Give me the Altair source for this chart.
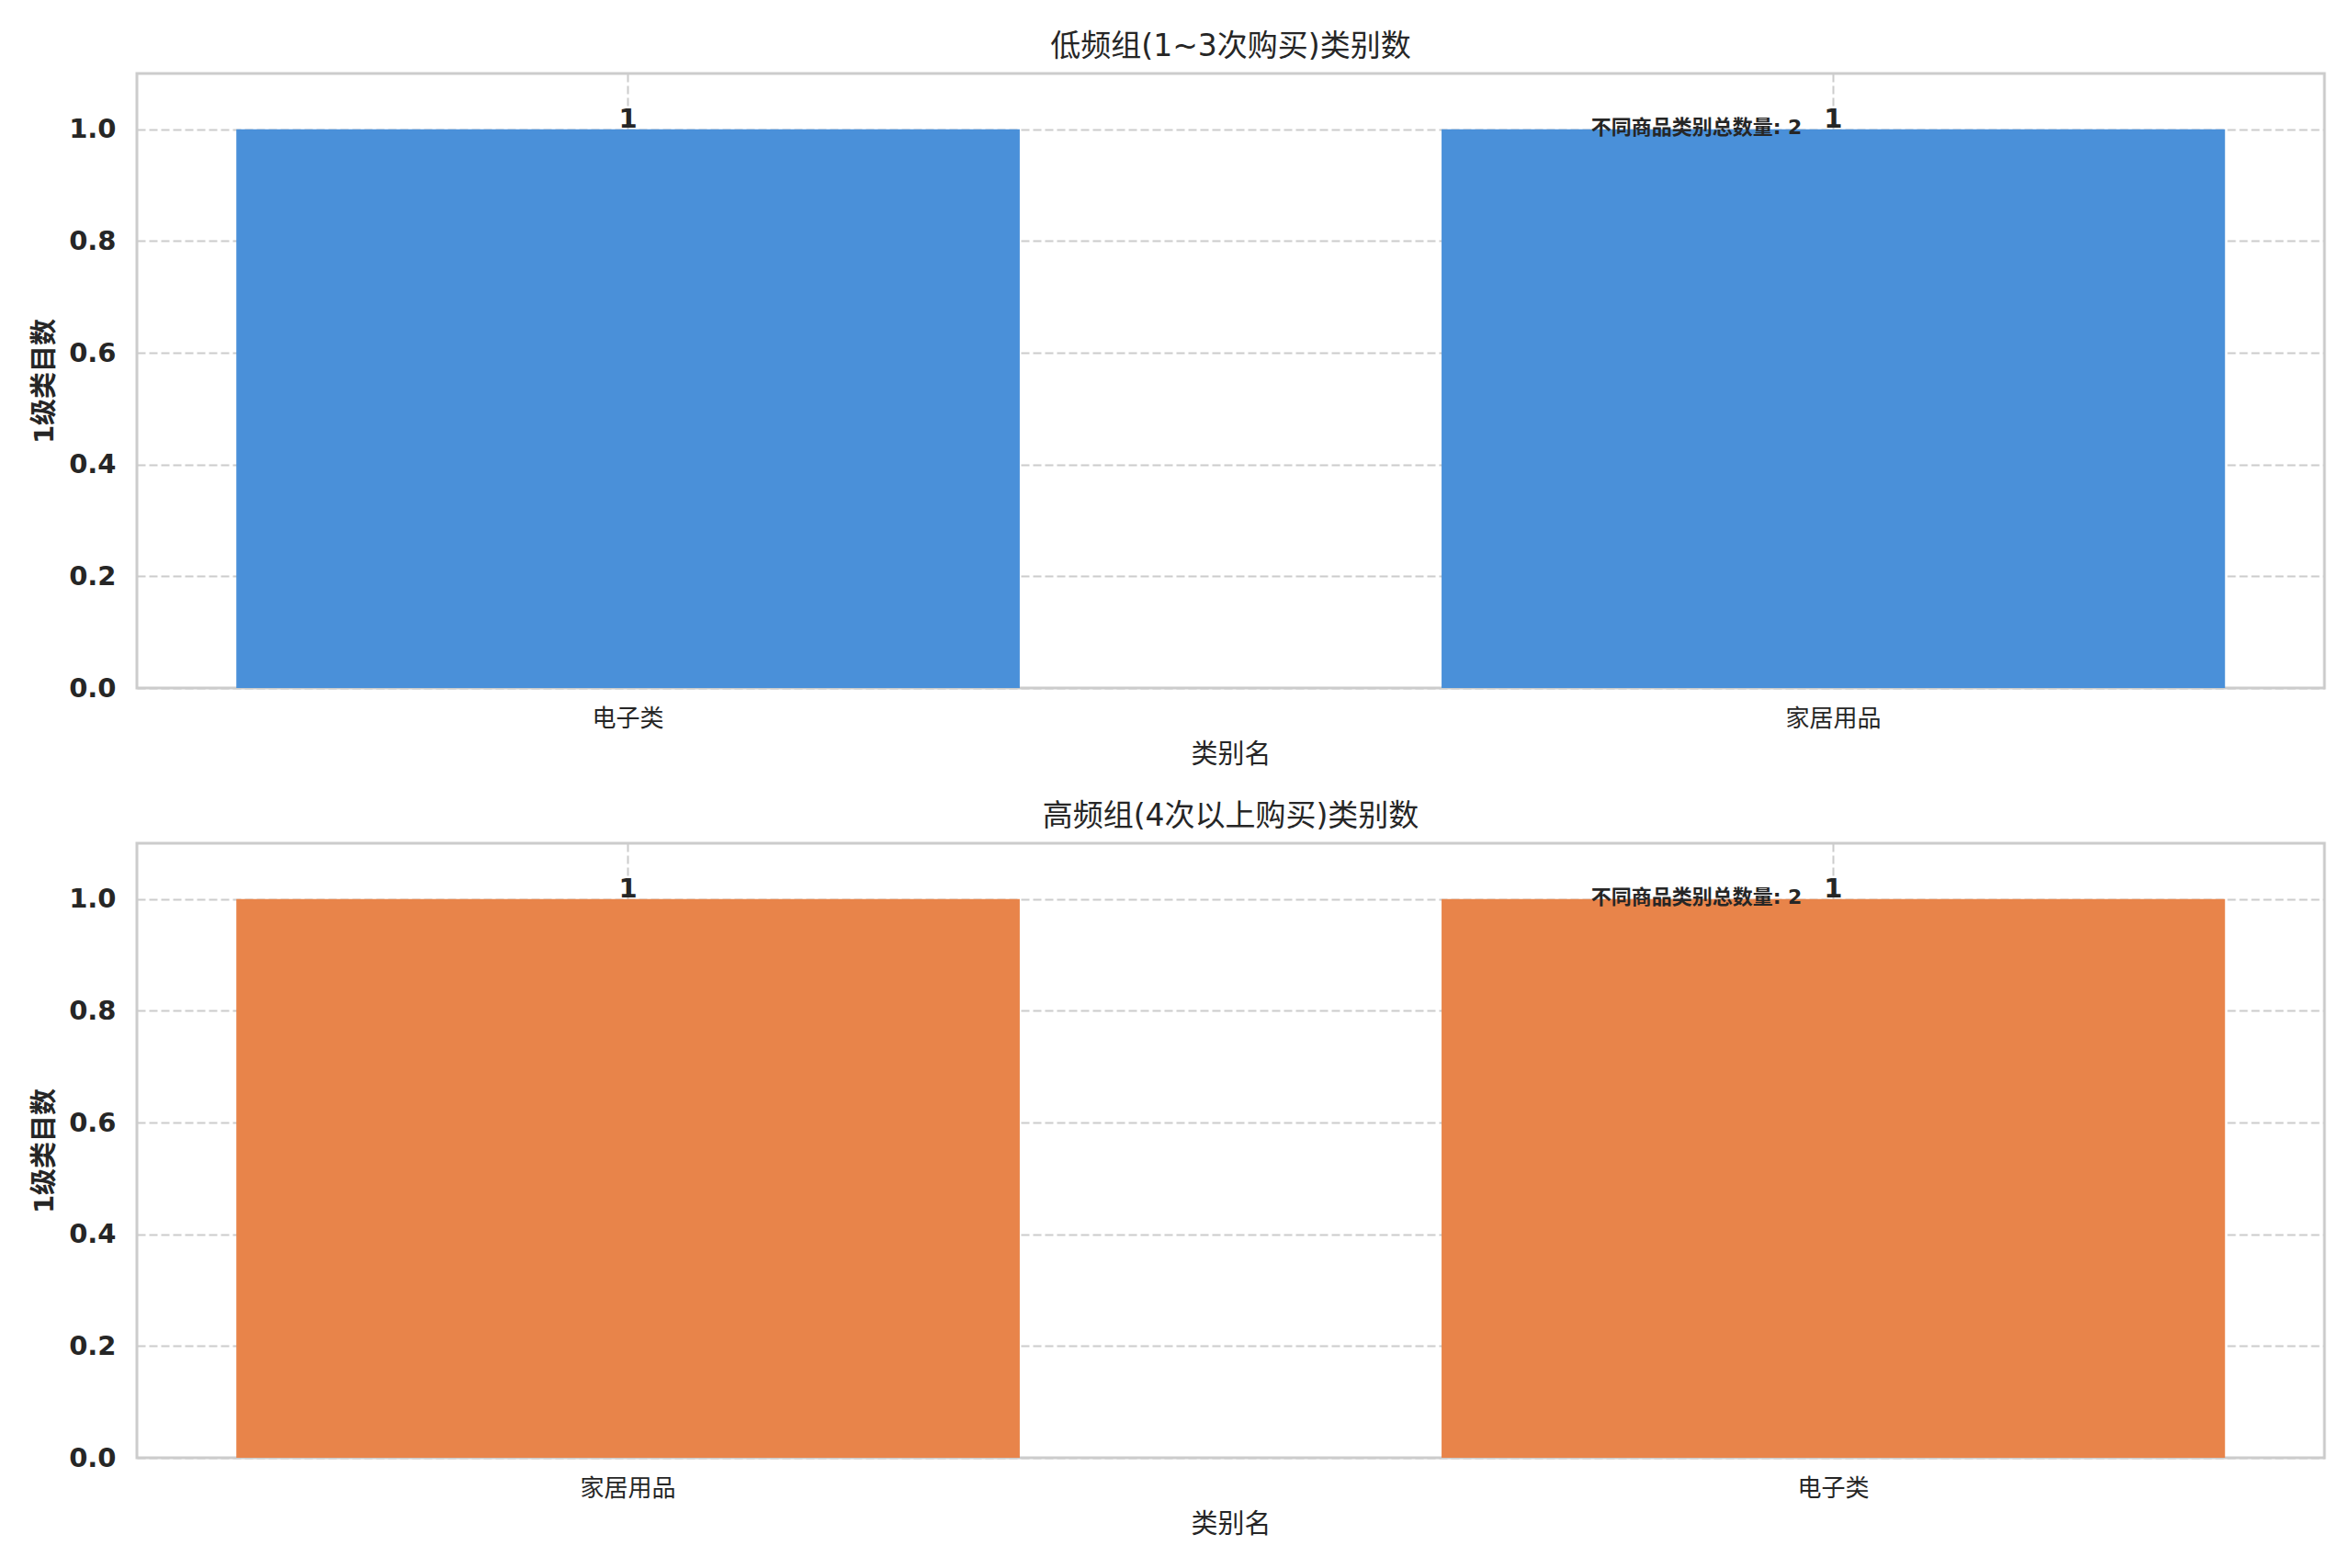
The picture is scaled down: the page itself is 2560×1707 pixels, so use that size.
import altair as alt
import pandas as pd

# ---- data ----
low_categories = ["电子类", "家居用品"]
low_counts = [1, 1]
high_categories = ["家居用品", "电子类"]
high_counts = [1, 1]
panel_titles = ["低频组(1~3次购买)类别数", "高频组(4次以上购买)类别数"]
bar_colors = ["#4A90D9", "#E8844A"]
x_title = "类别名"
y_title = "1级类目数"
y_ticks = [0.0, 0.2, 0.4, 0.6, 0.8, 1.0]
note_label = "不同商品类别总数量"

FONT = "DejaVu Sans, Noto Sans CJK SC"
TXT = "#262626"


def panel(cats, counts, title, color):
    df = pd.DataFrame({"cat": cats, "n": counts})
    x_enc = alt.X(
        "cat:N",
        sort=cats,
        title=x_title,
        scale=alt.Scale(paddingInner=0.35, paddingOuter=0.0825),
        axis=alt.Axis(
            labelAngle=0,
            bandPosition=0.5,
            grid=True,
            labelFontSize=26,
            labelFontWeight="normal",
            labelPadding=20,
            titleFontSize=29,
            titleFontWeight="normal",
            titlePadding=12,
        ),
    )
    y_enc = alt.Y(
        "n:Q",
        title=y_title,
        scale=alt.Scale(domain=[0, 1.1], nice=False, zero=True),
        axis=alt.Axis(
            values=y_ticks,
            format=".1f",
            grid=True,
            labelFontSize=29,
            labelFontWeight="bold",
            labelPadding=23,
            titleFontSize=29,
            titleFontWeight="bold",
            titlePadding=11,
        ),
    )
    bars = alt.Chart(df).mark_bar(color=color).encode(x=x_enc, y=y_enc)
    labels = alt.Chart(df).mark_text(
        baseline="alphabetic", dy=-2, fontWeight="bold", fontSize=29, font=FONT, color=TXT
    ).encode(
        x=alt.X("cat:N", sort=cats),
        y=alt.Y("n:Q"),
        text=alt.Text("n:Q"),
    )
    note_df = pd.DataFrame(
        {"cat": [cats[-1]], "n": [max(counts)], "t": [f"{note_label}: {len(cats)}"]}
    )
    note = alt.Chart(note_df).mark_text(
        align="right", baseline="middle", dx=-34, dy=-2, fontSize=22, fontWeight="bold",
        font=FONT, color=TXT
    ).encode(
        x=alt.X("cat:N", sort=cats),
        y=alt.Y("n:Q"),
        text="t:N",
    )
    return alt.layer(bars, labels, note).properties(
        width=2381,
        height=669,
        title=alt.TitleParams(
            title, fontSize=33, fontWeight="normal", color=TXT, font=FONT, offset=12
        ),
    )


top = panel(low_categories, low_counts, panel_titles[0], bar_colors[0])
bottom = panel(high_categories, high_counts, panel_titles[1], bar_colors[1])

chart = (
    alt.vconcat(top, bottom, spacing=33)
    .properties(padding={"left": 25, "top": 25, "right": 5, "bottom": 5}, background="white")
    .configure_view(stroke="#cccccc", strokeWidth=3)
    .configure_axis(
        domain=False,
        ticks=False,
        gridColor="#cccccc",
        gridDash=[9, 4],
        gridWidth=2,
        labelColor=TXT,
        titleColor=TXT,
        labelFont=FONT,
        titleFont=FONT,
    )
)

chart.save("out.html", embed_options={"renderer": "svg", "actions": False})
